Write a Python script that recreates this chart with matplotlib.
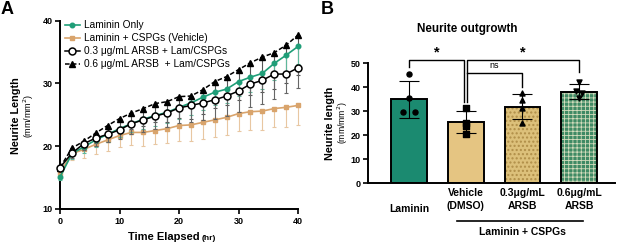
import matplotlib
matplotlib.use("Agg")
import matplotlib.pyplot as plt
import numpy as np

plt.rcParams['font.family'] = ['Liberation Sans', 'DejaVu Sans']
plt.rcParams['hatch.linewidth'] = 1.0

# ---------------- Panel A data ----------------
time_hr = list(range(0, 41, 2))
laminin_only = [15.1, 18.8, 19.9, 21.0, 21.9, 22.8, 23.6, 24.3, 24.9, 25.4, 26.2,
                26.9, 27.8, 28.6, 29.1, 30.3, 31.0, 31.6, 33.2, 34.5, 35.9]
laminin_only_err = [0.5, 0.8, 1.0, 1.1, 1.2, 1.3, 1.4, 1.5, 1.6, 1.7, 1.8,
                    1.9, 2.0, 2.1, 2.2, 2.3, 2.4, 2.5, 2.6, 2.7, 2.8]
vehicle = [15.8, 18.8, 19.5, 20.3, 21.0, 21.7, 22.2, 22.2, 22.5, 22.8, 23.3,
           23.4, 23.8, 24.2, 24.6, 25.2, 25.5, 25.6, 26.0, 26.2, 26.5]
vehicle_err = [0.6, 1.0, 1.3, 1.5, 1.7, 1.9, 2.0, 2.1, 2.2, 2.3, 2.4,
               2.5, 2.6, 2.7, 2.8, 2.8, 2.9, 3.0, 3.0, 3.1, 3.1]
arsb03 = [16.6, 18.9, 20.4, 21.3, 21.9, 22.6, 23.6, 24.2, 24.8, 25.3, 26.1,
          26.5, 26.9, 27.4, 28.0, 28.8, 29.9, 30.5, 31.5, 31.5, 32.5]
arsb03_err = [0.4, 0.8, 1.0, 1.2, 1.3, 1.5, 1.7, 1.9, 2.0, 2.2, 2.4,
              2.6, 2.8, 3.0, 3.2, 3.4, 3.6, 3.8, 4.0, 3.0, 3.2]
arsb06 = [16.6, 19.7, 20.8, 22.1, 23.3, 24.4, 25.3, 26.0, 26.8, 27.1, 27.9,
          28.0, 29.0, 30.3, 31.1, 32.2, 33.3, 34.2, 34.9, 36.1, 37.7]
arsb06_err = [0.5, 1.0, 1.3, 1.6, 1.9, 2.2, 2.5, 2.8, 3.0, 3.2, 3.4,
              3.6, 3.9, 4.2, 4.6, 4.9, 5.2, 5.5, 5.8, 6.1, 6.4]
legend_labels = ["Laminin Only", "Laminin + CSPGs (Vehicle)",
                 "0.3 \u03bcg/mL ARSB + Lam/CSPGs", "0.6 \u03bcg/mL ARSB  + Lam/CSPGs"]

# ---------------- Panel B data ----------------
bar_labels = ["Laminin", "Vehicle\n(DMSO)", "0.3\u03bcg/mL\nARSB", "0.6\u03bcg/mL\nARSB"]
bar_means = [35.0, 25.5, 32.0, 38.2]
bar_sd = [7.6, 4.7, 5.3, 3.2]
pts_laminin = [45.5, 35.4, 29.8, 29.8]
pts_vehicle = [31.2, 25.0, 23.9, 20.4]
pts_arsb03 = [37.5, 34.7, 31.2, 25.3]
pts_arsb06 = [42.3, 38.5, 37.8, 35.5]
group_label = "Laminin + CSPGs"

W, H = 617, 246
fig = plt.figure(figsize=(W / 100, H / 100), dpi=100)

def fx(px):
    return px / W

def fy(py):
    return 1 - py / H

green = '#1f9e78'
tan = '#d9a46c'

# ================= Panel A =================
axA = fig.add_axes([fx(60), fy(209), fx(298) - fx(60), fy(20.7) - fy(209)])
series = [
    (laminin_only, laminin_only_err, dict(color=green, marker='o', ms=3.3, mfc=green, mec=green, ls='-', lw=1.2), '#5fb89b'),
    (vehicle, vehicle_err, dict(color=tan, marker='s', ms=3.3, mfc=tan, mec=tan, ls='-', lw=1.2), '#e8c7a2'),
    (arsb03, arsb03_err, dict(color='black', marker='o', ms=5.0, mfc='white', mec='black', mew=1.1, ls='-', lw=1.1), '#666666'),
    (arsb06, arsb06_err, dict(color='black', marker='^', ms=4.2, mfc='black', mec='black', ls=(0, (3, 1.5)), lw=1.1), '#555555'),
]
handles = []
zs = {0: 5, 1: 3, 2: 6, 3: 4}
for i in range(4):
    vals, err, style, ecol = series[i]
    axA.errorbar(time_hr, vals, yerr=[err, [0] * len(err)], fmt='none', ecolor=ecol,
                 elinewidth=0.8, capsize=1.5, capthick=0.8, zorder=zs[i] - 0.5, clip_on=False)
    h, = axA.plot(time_hr, vals, zorder=zs[i], clip_on=False, **style)
    handles.append(h)

axA.set_xlim(0, 40)
axA.set_ylim(10, 40)
axA.set_xticks([0, 10, 20, 30, 40])
axA.set_yticks([10, 20, 30, 40])
for s in ['top', 'right']:
    axA.spines[s].set_visible(False)
for s in ['left', 'bottom']:
    axA.spines[s].set_linewidth(1.4)
axA.tick_params(width=1.2, length=3.5, labelsize=6.5, pad=2)
for lab in axA.get_xticklabels() + axA.get_yticklabels():
    lab.set_fontweight('bold')

leg = axA.legend(handles, legend_labels, loc='upper left', bbox_to_anchor=(-0.005, 1.035),
                 frameon=False, fontsize=7.3, handlelength=1.5, handletextpad=0.4,
                 labelspacing=0.3, borderaxespad=0.2)

fig.text(fx(200), fy(237), "Time Elapsed", ha='right', va='center', fontsize=8, fontweight='bold')
fig.text(fx(202), fy(238), "(hr)", ha='left', va='center', fontsize=6, fontweight='bold')
fig.text(fx(16.5), fy(116), "Neurite Length", rotation=90, ha='center', va='center',
         fontsize=7.8, fontweight='bold')
fig.text(fx(28.5), fy(116), "(mm/mm$^2$)", rotation=90, ha='center', va='center', fontsize=6.5)
fig.text(fx(1), fy(9), "A", fontsize=13, fontweight='bold', ha='left', va='center')

# ================= Panel B =================
axB = fig.add_axes([fx(368), fy(183.3), fx(615) - fx(368), fy(63.3) - fy(183.3)])
xpos = np.arange(4)
face = ['#1b8a70', '#e5c582', '#dcc07a', '#3f8a64']
hatch_col = [None, None, '#b08e48', '#d3dcbc']
hatches = [None, None, '....', '++++']
hatch_lw = [None, None, 1.0, 0.6]
bw = 0.63
for i in range(4):
    if hatches[i]:
        plt.rcParams['hatch.linewidth'] = hatch_lw[i]
        axB.bar(xpos[i], bar_means[i], width=bw, color=face[i], edgecolor=hatch_col[i],
                hatch=hatches[i], linewidth=0, zorder=2)
        axB.bar(xpos[i], bar_means[i], width=bw, color='none', edgecolor='black',
                linewidth=1.4, zorder=3)
    else:
        axB.bar(xpos[i], bar_means[i], width=bw, color=face[i], edgecolor='black',
                linewidth=1.4, zorder=2)
axB.errorbar(xpos, bar_means, yerr=bar_sd, fmt='none', ecolor='black', elinewidth=0.8,
             capsize=7.5, capthick=0.8, zorder=5)

pts = [pts_laminin, pts_vehicle, pts_arsb03, pts_arsb06]
mk = ['o', 's', '^', 'v']
jit = [[0, 0, -0.1, 0.1], [0, 0, 0, 0], [0, 0, 0, 0], [0, -0.05, 0.05, 0]]
for i in range(4):
    axB.scatter(xpos[i] + np.array(jit[i]), pts[i], marker=mk[i], s=13, color='black', zorder=6)

axB.set_xlim(-0.72, 3.63)
axB.set_ylim(0, 50)
axB.set_yticks([0, 10, 20, 30, 40, 50])
axB.set_xticks([])
for s in ['top', 'right']:
    axB.spines[s].set_visible(False)
for s in ['left', 'bottom']:
    axB.spines[s].set_linewidth(1.4)
axB.tick_params(axis='y', width=1.2, length=3.5, labelsize=6.5, pad=2)
for lab in axB.get_yticklabels():
    lab.set_fontweight('bold')

# category labels
for i, lab in enumerate(bar_labels):
    if '\n' in lab:
        axB.text(xpos[i], -1.8, lab, ha='center', va='top', fontsize=7.5, fontweight='bold',
                 linespacing=1.45)
    else:
        axB.text(xpos[i], -8.6, lab, ha='center', va='top', fontsize=7.5, fontweight='bold')
axB.plot([0.84, 3.07], [-15.7, -15.7], color='black', lw=1.2, clip_on=False)
axB.text(2.0, -18.2, group_label, ha='center', va='top', fontsize=7.5, fontweight='bold')

# significance brackets
bk = dict(color='black', lw=1.0, clip_on=False)
axB.plot([0, 0, 0.97, 0.97], [48.6, 51.4, 51.4, 34.0], **bk)
axB.plot([1.03, 1.03, 3, 3], [34.0, 51.4, 51.4, 46.5], **bk)
axB.plot([1.03, 1.03, 2, 2], [45.8, 45.8, 45.8, 40.3], **bk)
axB.text(0.5, 51.8, "*", ha='center', va='bottom', fontsize=10.5, fontweight='bold')
axB.text(2.0, 51.8, "*", ha='center', va='bottom', fontsize=10.5, fontweight='bold')
axB.text(1.5, 47.0, "ns", ha='center', va='bottom', fontsize=6.5)

fig.text(fx(467), fy(29), "Neurite outgrowth", ha='center', va='center', fontsize=8.4,
         fontweight='bold')
fig.text(fx(329.5), fy(123), "Neurite length", rotation=90, ha='center', va='center',
         fontsize=7.8, fontweight='bold')
fig.text(fx(342.5), fy(123), "(mm/mm$^2$)", rotation=90, ha='center', va='center', fontsize=6.2)
fig.text(fx(327), fy(9), "B", fontsize=13, fontweight='bold', ha='center', va='center')

fig.savefig("out.png", dpi=100)
